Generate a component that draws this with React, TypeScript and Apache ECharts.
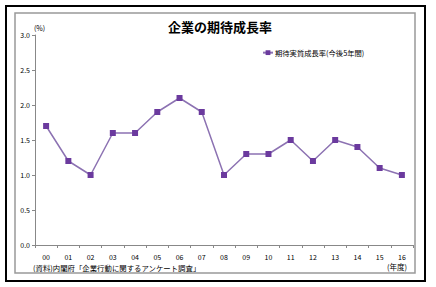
import React, { useEffect, useRef } from "react";
import * as echarts from "echarts";

const categories = ["00","01","02","03","04","05","06","07","08","09","10","11","12","13","14","15","16"];
const growth = [1.7, 1.2, 1.0, 1.6, 1.6, 1.9, 2.1, 1.9, 1.0, 1.3, 1.3, 1.5, 1.2, 1.5, 1.4, 1.1, 1.0];
const seriesName = "期待実質成長率(今後5年間)";
const titleText = "企業の期待成長率";
const sourceText = "(資料)内閣府「企業行動に関するアンケート調査」";

const FONT = "'Noto Sans CJK JP', 'Noto Sans', sans-serif";

export default function App() {
  const ref = useRef<HTMLDivElement>(null);
  useEffect(() => {
    if (!ref.current) return;
    const chart = echarts.init(ref.current, null, { renderer: "svg" });
    chart.setOption({
      animation: false,
      backgroundColor: "#fff",
      textStyle: { fontFamily: FONT },
      title: {
        text: titleText,
        left: 215,
        textAlign: "center",
        top: 15,
        textStyle: { fontSize: 13, fontWeight: "bold", color: "#000", fontFamily: FONT },
      },
      legend: {
        data: [seriesName],
        left: 257,
        top: 44,
        itemWidth: 10,
        itemHeight: 6,
        itemGap: 2,
        textStyle: { fontSize: 7.3, color: "#000", fontFamily: FONT, padding: [0, 0, 0, -3] },
      },
      grid: { left: 35, right: 23, top: 35, bottom: 42 },
      xAxis: {
        type: "category",
        data: categories,
        boundaryGap: true,
        axisLine: { lineStyle: { color: "#888", width: 1 } },
        axisTick: { show: true, length: 3, lineStyle: { color: "#888" } },
        axisLabel: { fontSize: 7, color: "#000", margin: 8, fontFamily: FONT },
        splitLine: { show: false },
      },
      yAxis: {
        type: "value",
        min: 0,
        max: 3,
        interval: 0.5,
        axisLine: { show: true, lineStyle: { color: "#888", width: 1 } },
        axisTick: { show: true, length: 3, lineStyle: { color: "#888" } },
        axisLabel: { fontSize: 7, color: "#000", margin: 5, formatter: (v: number) => v.toFixed(1), fontFamily: FONT },
        splitLine: { show: false },
      },
      series: [
        {
          name: seriesName,
          type: "line",
          data: growth,
          symbol: "rect",
          symbolSize: 6,
          itemStyle: { color: "#6B3A9E" },
          lineStyle: { color: "#8C72B2", width: 1.5 },
        },
      ],
      graphic: [
        { type: "rect", shape: { x: 6, y: 6, width: 419, height: 275 }, style: { fill: "none", stroke: "#000", lineWidth: 2 }, z: 100 },
        { type: "rect", shape: { x: 15, y: 13, width: 400, height: 260 }, style: { fill: "none", stroke: "#999", lineWidth: 1.5 }, z: 100 },
        { type: "text", x: 34, y: 24, style: { text: "(%)", fontSize: 7, fill: "#000", fontFamily: FONT } },
        { type: "text", x: 387, y: 263, style: { text: "(年度)", fontSize: 7.5, fill: "#000", fontFamily: FONT } },
        { type: "text", x: 33, y: 264, style: { text: sourceText, fontSize: 7.4, fill: "#000", fontFamily: FONT } },
      ],
    });
    return () => chart.dispose();
  }, []);
  return <div ref={ref} style={{ position: "fixed", left: 0, top: 0, width: 436, height: 287 }} />;
}
